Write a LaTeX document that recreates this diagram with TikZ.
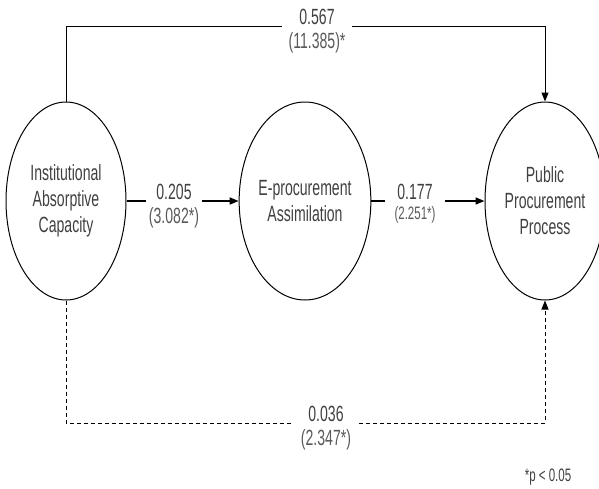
\documentclass[tikz,border=0pt]{standalone}
\usepackage{fontspec}
\setmainfont{Liberation Sans}[FakeStretch=0.64]
\usepackage{tikz}
\usetikzlibrary{shapes.geometric, arrows.meta, positioning}

\begin{document}
\begin{tikzpicture}[x=1pt,y=-1pt,
    every node/.style={font=\fontsize{22}{26}\selectfont, text=black!75},
    latent/.style={draw, ellipse, line width=1pt, inner sep=0pt, minimum width=120pt, minimum height=198pt, align=center},
    val/.style={anchor=south, inner xsep=10pt, inner ysep=1pt},
    tval/.style={inner sep=1pt, text=black!65},
    dsh/.style={line width=1pt, dash pattern=on 4pt off 3pt},
    >={Triangle[length=9pt,width=7pt]}]
    \useasboundingbox (0,0) rectangle (599,488);
    \node[latent] (iac) at (66,201) {Institutional\\Absorptive\\Capacity};
    \node[latent] (eas) at (305,201) {E-procurement\\Assimilation};
    \node[latent] (ppp) at (545,201) {Public\\Procurement\\Process};
    % path coefficients
    \node[val, inner xsep=17pt] (v1) at (317,26) {0.567};
    \node[tval, below=5pt of v1] (t1) {(11.385)*};
    \node[val] (v2) at (174,201) {0.205};
    \node[tval, below=5pt of v2] (t2) {(3.082*)};
    \node[val, inner xsep=12pt] (v3) at (415,201) {0.177};
    \node[tval, below=4pt of v3, font=\fontsize{18}{20}\selectfont] (t3) {(2.251*)};
    \node[val, inner xsep=15pt] (v4) at (326,423) {0.036};
    \node[tval, below=5pt of v4] (t4) {(2.347*)};
    \node[font=\fontsize{18}{20}\selectfont] (note) at (548,477) {*p < 0.05};
    \draw[line width=1pt] (iac.north) |- (v1.south west);
    \draw[->, line width=1pt] (v1.south east) -| (ppp.north);
    \draw[line width=1.6pt] (iac.east) -- (v2.south west);
    \draw[->, line width=1.6pt] (v2.south east) -- (eas.west);
    \draw[line width=1.6pt] (eas.east) -- (v3.south west);
    \draw[->, line width=1.6pt] (v3.south east) -- (ppp.west);
    \draw[dsh] (iac.south) |- (v4.south west);
    \draw[dsh, ->] (v4.south east) -| (ppp.south);
\end{tikzpicture}
\end{document}
